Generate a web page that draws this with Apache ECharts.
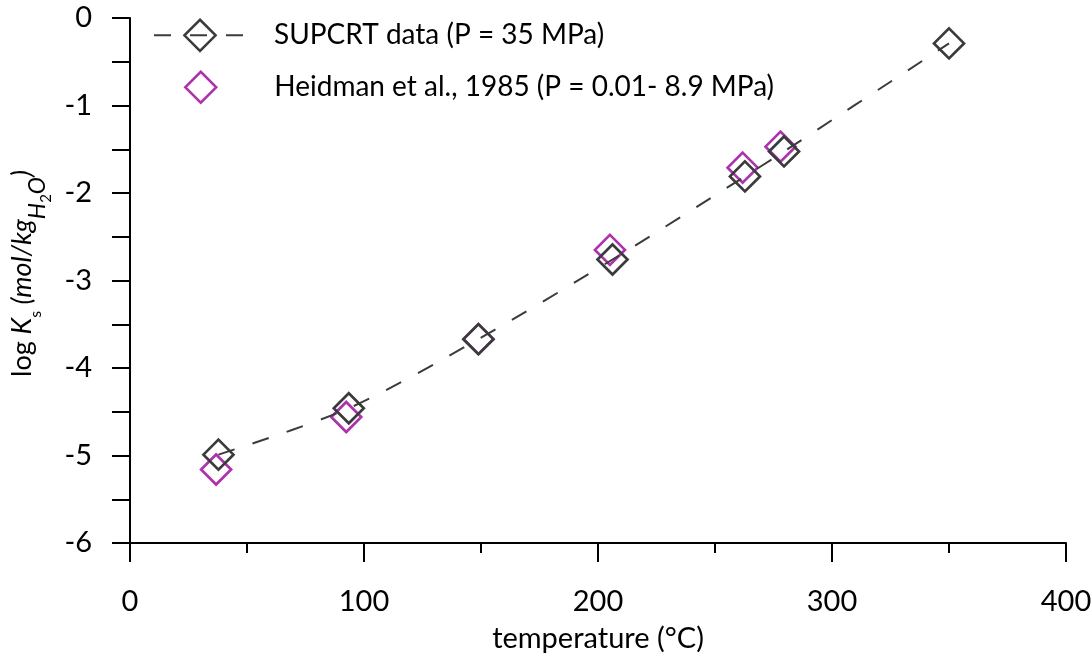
<!DOCTYPE html>
<html><head><meta charset="utf-8">
<script src="https://cdn.jsdelivr.net/npm/echarts@6/dist/echarts.min.js"></script>
<style>html,body{margin:0;padding:0;background:#fff}#c{width:1091px;height:655px}</style>
</head><body><div id="c"></div>
<script>
// ---- data ----
const supcrtName = 'SUPCRT data (P = 35 MPa)';
const heidmanName = 'Heidman et al., 1985 (P = 0.01- 8.9 MPa)';
const supcrtT    = [37.8, 93.5, 148.9, 206.2, 262.8, 279.5, 350];
const supcrtLogK = [-4.99, -4.46, -3.67, -2.76, -1.81, -1.525, -0.29];
const heidmanT    = [36.8, 92.4, 148.9, 205.1, 261.8, 278.0];
const heidmanLogK = [-5.16, -4.56, -3.67, -2.65, -1.71, -1.47];
const xTickLabels = [0, 100, 200, 300, 400];
const yTickLabels = [0, -1, -2, -3, -4, -5, -6];
const xTitle = 'temperature (°C)';

const FONT = 'Lato';
const DARK = '#3b3b3b';
const PURPLE = '#990099';

const supcrtData = supcrtT.map((t, i) => [t, supcrtLogK[i]]);
const heidmanData = heidmanT.map((t, i) => [t, heidmanLogK[i]]);

const chart = echarts.init(document.getElementById('c'), null, {renderer: 'canvas'});
const option = {
  animation: false,
  backgroundColor: '#fff',
  grid: {left: 130, right: 25, top: 18, bottom: 112, containLabel: false, outerBoundsMode: 'none'},
  xAxis: {
    type: 'value',
    min: xTickLabels[0], max: xTickLabels[xTickLabels.length - 1], interval: 100,
    name: xTitle, nameLocation: 'middle', nameGap: 81,
    nameTextStyle: {fontFamily: FONT, fontSize: 29, color: '#000'},
    axisLine: {show: true, onZero: false, lineStyle: {color: '#000', width: 2}},
    axisTick: {show: true, length: 19, lineStyle: {color: '#000', width: 2}},
    minorTick: {show: true, splitNumber: 2, length: 10, lineStyle: {color: '#000', width: 2}},
    axisLabel: {fontFamily: FONT, fontSize: 29, color: '#000', margin: 44,
      formatter: v => xTickLabels.includes(v) ? String(v) : ''},
    splitLine: {show: false}
  },
  yAxis: {
    type: 'value',
    min: yTickLabels[yTickLabels.length - 1], max: yTickLabels[0], interval: 1,
    name: '{b|log }{i|K}{s|s}{i| (mol/kg}{h|H}{t|2}{h|O}{i|)}',
    nameLocation: 'middle', nameRotate: 90, nameGap: 76,
    nameTextStyle: {
      fontFamily: FONT, fontSize: 27, color: '#000', padding: [0, 0, 0, 14],
      rich: {
        b: {fontFamily: FONT, fontSize: 27, lineHeight: 28, verticalAlign: 'top', color: '#000'},
        i: {fontFamily: FONT, fontSize: 27, lineHeight: 28, verticalAlign: 'top', fontStyle: 'italic', color: '#000'},
        s: {fontFamily: FONT, fontSize: 16, lineHeight: 16, verticalAlign: 'top', padding: [19, 0, 0, 0], color: '#000'},
        h: {fontFamily: FONT, fontSize: 23, lineHeight: 23, verticalAlign: 'top', fontStyle: 'italic', padding: [18, 0, 0, 0], color: '#000'},
        t: {fontFamily: FONT, fontSize: 15, lineHeight: 15, verticalAlign: 'top', padding: [30, 0, 0, 0], color: '#000'}
      }
    },
    axisLine: {show: true, onZero: false, lineStyle: {color: '#000', width: 2}},
    axisTick: {show: true, length: 18, lineStyle: {color: '#000', width: 2}},
    minorTick: {show: true, splitNumber: 2, length: 18, lineStyle: {color: '#000', width: 2}},
    axisLabel: {fontFamily: FONT, fontSize: 29, color: '#000', margin: 38,
      formatter: v => yTickLabels.includes(v) ? String(v) : ''},
    splitLine: {show: false}
  },
  legend: [
    {
      data: [supcrtName], left: 153, top: 18.5, orient: 'vertical', padding: 0,
      itemWidth: 92, itemHeight: 39,
      textStyle: {fontFamily: FONT, fontSize: 28, color: '#000', padding: [0, 0, 0, 23]},
      lineStyle: {width: 2},
      itemStyle: {borderWidth: 2.5},
      selectedMode: false
    },
    {
      data: [heidmanName], left: 184, top: 70.5, orient: 'vertical', padding: 0,
      itemWidth: 31, itemHeight: 31,
      textStyle: {fontFamily: FONT, fontSize: 28, color: '#000', padding: [0, 0, 0, 53]},
      itemStyle: {borderWidth: 2.5},
      selectedMode: false
    }
  ],
  series: [
    {
      name: heidmanName, type: 'scatter', data: heidmanData,
      symbol: 'diamond', symbolSize: 30, z: 2,
      itemStyle: {color: 'rgba(0,0,0,0)', borderColor: PURPLE, borderWidth: 2.7},
      emphasis: {disabled: true}
    },
    {
      name: supcrtName, type: 'line', data: supcrtData, smooth: 0.3,
      symbol: 'diamond', symbolSize: 30, showAllSymbol: true, z: 3,
      itemStyle: {color: 'rgba(0,0,0,0)', borderColor: DARK, borderWidth: 2.7},
      lineStyle: {color: DARK, width: 2, type: [17, 19]},
      emphasis: {disabled: true}
    }
  ]
};
chart.setOption(option);
</script>
</body></html>
